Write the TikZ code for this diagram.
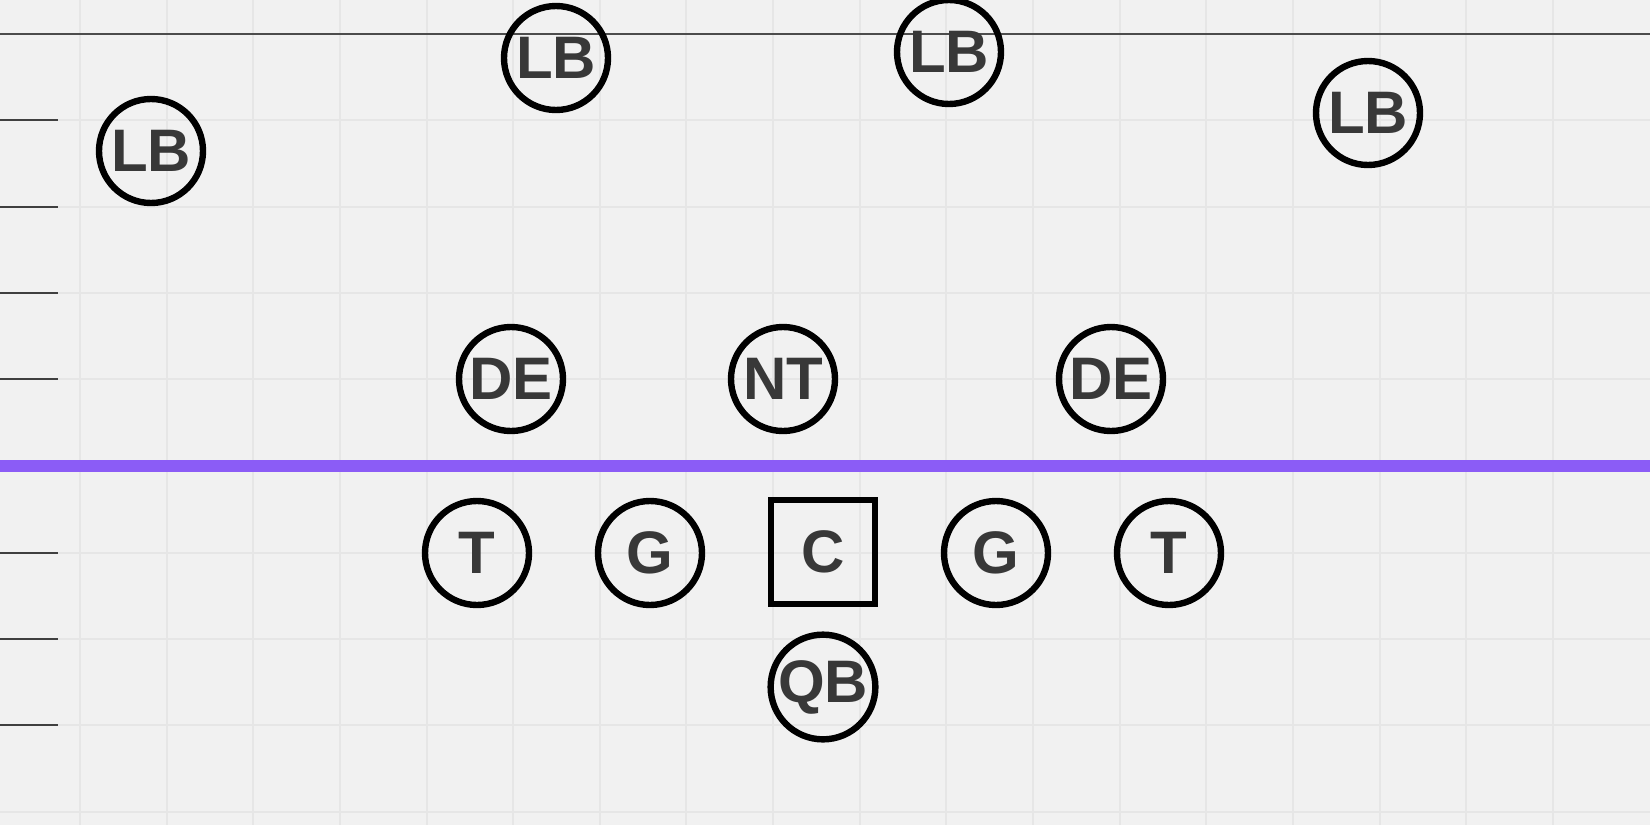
\documentclass[tikz,border=0pt]{standalone}
\usepackage{fontspec}
\setmainfont{Liberation Sans}
\definecolor{bg}{HTML}{F1F1F1}
\definecolor{gridc}{HTML}{E6E6E6}
\definecolor{violetline}{HTML}{8B5CF6}
\definecolor{txt}{HTML}{383838}
\tikzset{
  player/.style={circle, draw=black, line width=3.2pt, minimum size=52pt, inner sep=0pt,
    text=txt, font=\fontsize{30}{30}\selectfont\bfseries},
  center/.style={rectangle, draw=black, line width=3.2pt, minimum size=52pt, inner sep=0pt,
    text=txt, font=\fontsize{30}{30}\selectfont\bfseries},
  tick/.style={draw=black!75, line width=1pt},
}
\begin{document}
\begin{tikzpicture}[x=0.5pt,y=-0.5pt]
\fill[bg] (0,0) rectangle (1650,825);
\useasboundingbox (0,0) rectangle (1650,825);
% faint grid
\foreach \x in {80,167,253,340,427,513,600,686,773,860,946,1033,1120,1206,1293,1380,1466,1553}
  \draw[gridc, line width=0.6pt] (\x,0) -- (\x,825);
\foreach \y in {34,120,207,293,379,553,639,725,812}
  \draw[gridc, line width=0.6pt] (0,\y) -- (1650,\y);
% top line
\draw[black!70, line width=1.2pt] (0,34) -- (1650,34);
% left ticks
\foreach \y in {120,207,293,379,553,639,725}
  \draw[tick] (0,\y) -- (58,\y);
% line of scrimmage
\draw[violetline, line width=6pt] (0,466) -- (1650,466);
% defense
\node[player] (lb1) at (151,151) {LB};
\node[player] (lb2) at (556,58) {LB};
\node[player] (lb3) at (949,52) {LB};
\node[player] (lb4) at (1368,113) {LB};
\node[player] (de1) at (511,379) {DE};
\node[player] (nt) at (783,379) {NT};
\node[player] (de2) at (1111,379) {DE};
% offense
\node[player] (t1) at (477,553) {T};
\node[player] (g1) at (650,553) {G};
\node[center] (c) at (823,552) {C};
\node[player] (g2) at (996,553) {G};
\node[player] (t2) at (1169,553) {T};
\node[player] (qb) at (823,687) {QB};
\end{tikzpicture}
\end{document}
